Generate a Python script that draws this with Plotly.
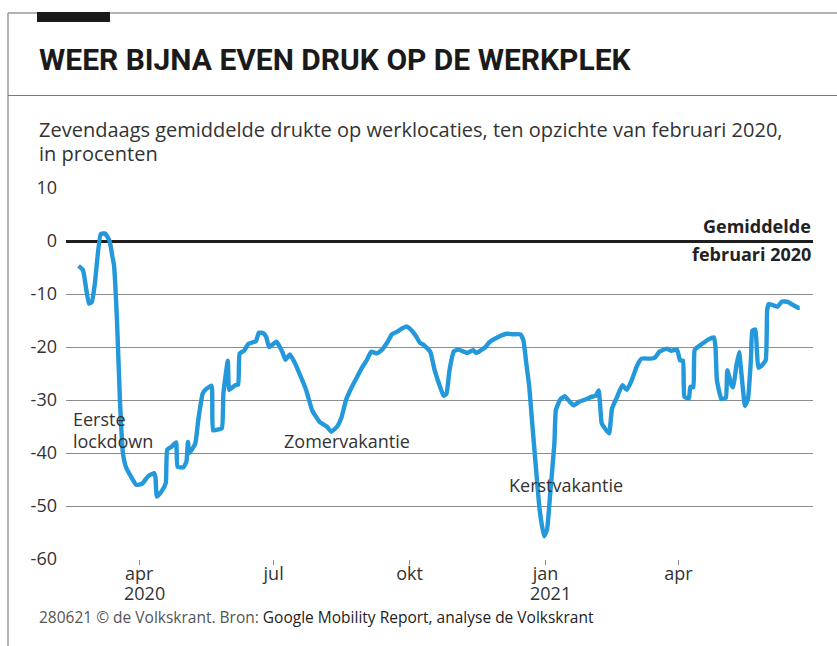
import plotly.graph_objects as go

# ---- data ----
dates = [
    "2020-02-20", "2020-02-23", "2020-02-27", "2020-02-29", "2020-03-02", "2020-03-06",
    "2020-03-09", "2020-03-12", "2020-03-14", "2020-03-15", "2020-03-17", "2020-03-19",
    "2020-03-21", "2020-03-23", "2020-03-27", "2020-03-30", "2020-04-03", "2020-04-07",
    "2020-04-11", "2020-04-12", "2020-04-13", "2020-04-16", "2020-04-19", "2020-04-20",
    "2020-04-23", "2020-04-26", "2020-04-27", "2020-05-01", "2020-05-03", "2020-05-04",
    "2020-05-05", "2020-05-09", "2020-05-11", "2020-05-14", "2020-05-16", "2020-05-20",
    "2020-05-21", "2020-05-24", "2020-05-27", "2020-05-28", "2020-05-31", "2020-06-01",
    "2020-06-05", "2020-06-07", "2020-06-08", "2020-06-11", "2020-06-14", "2020-06-19",
    "2020-06-21", "2020-06-24", "2020-06-26", "2020-06-28", "2020-07-03", "2020-07-07",
    "2020-07-09", "2020-07-12", "2020-07-15", "2020-07-18", "2020-07-23", "2020-07-27",
    "2020-08-01", "2020-08-06", "2020-08-09", "2020-08-13", "2020-08-16", "2020-08-19",
    "2020-08-23", "2020-08-26", "2020-08-30", "2020-09-02", "2020-09-05", "2020-09-09",
    "2020-09-12", "2020-09-16", "2020-09-19", "2020-09-22", "2020-09-26", "2020-09-29",
    "2020-10-01", "2020-10-05", "2020-10-08", "2020-10-11", "2020-10-15", "2020-10-18",
    "2020-10-22", "2020-10-24", "2020-10-26", "2020-10-28", "2020-10-31", "2020-11-03",
    "2020-11-09", "2020-11-13", "2020-11-15", "2020-11-21", "2020-11-24", "2020-11-30",
    "2020-12-06", "2020-12-10", "2020-12-15", "2020-12-17", "2020-12-19", "2020-12-21",
    "2020-12-23", "2020-12-26", "2020-12-28", "2020-12-31", "2021-01-02", "2021-01-04",
    "2021-01-07", "2021-01-08", "2021-01-11", "2021-01-14", "2021-01-17", "2021-01-20",
    "2021-01-24", "2021-01-28", "2021-02-01", "2021-02-04", "2021-02-06", "2021-02-08",
    "2021-02-10", "2021-02-13", "2021-02-15", "2021-02-18", "2021-02-22", "2021-02-25",
    "2021-02-28", "2021-03-04", "2021-03-07", "2021-03-13", "2021-03-16", "2021-03-19",
    "2021-03-24", "2021-03-27", "2021-03-31", "2021-04-02", "2021-04-04", "2021-04-05",
    "2021-04-08", "2021-04-09", "2021-04-11", "2021-04-12", "2021-04-17", "2021-04-21",
    "2021-04-25", "2021-04-26", "2021-04-27", "2021-04-30", "2021-05-03", "2021-05-04",
    "2021-05-07", "2021-05-08", "2021-05-10", "2021-05-12", "2021-05-14", "2021-05-16",
    "2021-05-18", "2021-05-20", "2021-05-21", "2021-05-23", "2021-05-24", "2021-05-25",
    "2021-05-27", "2021-05-30", "2021-05-31", "2021-06-01", "2021-06-03", "2021-06-07",
    "2021-06-10", "2021-06-14", "2021-06-17", "2021-06-21", "2021-06-22",
]
drukte = [
    -4.7, -5.5, -11.8, -11.5, -8.1, 1.3,
    1.4, 0.0, -3.1, -4.6, -15.0, -30.0,
    -40.0, -42.6, -44.7, -46.0, -45.8, -44.4,
    -43.8, -44.5, -48.2, -47.3, -45.7, -39.4,
    -38.8, -38.0, -42.6, -42.7, -41.6, -37.9,
    -40.0, -38.2, -33.8, -28.8, -28.0, -27.3,
    -35.7, -35.6, -35.3, -28.8, -22.6, -28.1,
    -27.2, -27.1, -21.2, -20.7, -19.4, -18.9,
    -17.3, -17.4, -18.1, -20.0, -19.0, -21.0,
    -22.4, -21.4, -22.8, -24.7, -28.1, -31.9,
    -34.1, -35.0, -36.0, -35.0, -33.2, -30.0,
    -27.5, -25.9, -23.8, -22.5, -20.9, -21.2,
    -20.6, -19.1, -17.6, -17.2, -16.5, -16.1,
    -16.5, -17.8, -19.2, -19.7, -20.9, -24.4,
    -27.8, -29.2, -28.8, -24.4, -20.8, -20.5,
    -21.1, -20.6, -21.1, -20.1, -19.1, -18.1,
    -17.5, -17.6, -17.6, -18.7, -23.1, -27.5,
    -34.4, -44.4, -50.7, -55.7, -54.5, -48.2,
    -38.2, -31.9, -29.9, -29.3, -30.2, -31.0,
    -30.3, -29.9, -29.4, -29.2, -28.2, -34.4,
    -35.3, -36.3, -31.6, -29.7, -27.2, -28.1,
    -26.5, -23.5, -22.2, -22.2, -22.0, -20.9,
    -20.3, -20.7, -20.5, -22.5, -22.6, -29.4,
    -29.7, -27.5, -27.6, -20.5, -19.4, -18.6,
    -18.2, -20.0, -26.3, -29.8, -29.6, -24.4,
    -27.3, -27.6, -23.8, -21.0, -26.3, -31.1,
    -29.8, -22.3, -16.9, -16.7, -20.6, -23.9,
    -23.6, -22.5, -13.0, -11.9, -12.0, -12.4,
    -11.4, -11.5, -12.0, -12.6, -12.6,
]

y_ticks = [10, 0, -10, -20, -30, -40, -50, -60]
y_tick_labels = ["10", "0", "-10", "-20", "-30", "-40", "-50", "-60"]
x_ticks = ["2020-04-01", "2020-07-01", "2020-10-01", "2021-01-01", "2021-04-01"]
x_tick_labels = ["apr", "jul", "okt", "jan", "apr"]
year_ticks = ["2020-04-01", "2021-01-01"]
year_labels = ["2020", "2021"]

# ---- layout geometry (pixels of the 837x646 canvas) ----
W, H = 837, 646
ML, MR, MT, MB = 66, 24, 188, 87
PW, PH = W - ML - MR, H - MT - MB


def px(x):
    return (x - ML) / PW


def py(y):
    return (H - MB - y) / PH


TXT = "#333333"
FONT = "Open Sans, Roboto, sans-serif"
LINE_BLUE = "#2398da"
GRID = "#8c8c8c"

fig = go.Figure()
fig.add_trace(go.Scatter(
    x=dates, y=drukte, mode="lines",
    line=dict(color=LINE_BLUE, width=4.4, shape="spline", smoothing=0.4),
    hoverinfo="x+y", showlegend=False,
))

fig.update_layout(
    width=W, height=H,
    margin=dict(l=ML, r=MR, t=MT, b=MB, pad=0),
    paper_bgcolor="white", plot_bgcolor="white",
    font=dict(family=FONT, size=18, color=TXT),
    xaxis=dict(
        range=["2020-02-11 12:00", "2021-07-01"],
        tickmode="array", tickvals=x_ticks, ticktext=x_tick_labels,
        showgrid=False, zeroline=False, showline=False,
        ticks="outside", ticklen=5, tickwidth=1, tickcolor=GRID,
        ticklabelstandoff=-7,
        tickfont=dict(size=18, color=TXT),
    ),
    yaxis=dict(
        range=[-60, 10],
        tickmode="array", tickvals=y_ticks, ticktext=y_tick_labels,
        showgrid=True, gridcolor=GRID, gridwidth=1,
        zeroline=True, zerolinecolor="#1e1e1e", zerolinewidth=3,
        showline=False, ticks="", ticklabelstandoff=8,
        tickfont=dict(size=18, color=TXT),
    ),
)

shapes = [
    # frame: top rule, left rule, divider under the title
    dict(type="line", xref="paper", yref="paper", x0=px(8), x1=px(W), y0=py(13), y1=py(13),
         line=dict(color="#9a9a9a", width=1.5)),
    dict(type="line", xref="paper", yref="paper", x0=px(8), x1=px(8), y0=py(13), y1=py(H),
         line=dict(color="#9a9a9a", width=1.5)),
    dict(type="line", xref="paper", yref="paper", x0=px(8), x1=px(W), y0=py(95.5), y1=py(95.5),
         line=dict(color="#7a7a7a", width=1.2)),
    # black accent bar
    dict(type="rect", xref="paper", yref="paper", x0=px(37), x1=px(110), y0=py(22), y1=py(12),
         fillcolor="#1a1a1a", line=dict(width=0)),
]
fig.update_layout(shapes=shapes)

ann = []


def label(text, x, y, size=18, color=TXT, xanchor="left", family=None):
    f = dict(size=size, color=color)
    if family:
        f["family"] = family
    ann.append(dict(text=text, x=px(x), y=py(y), xref="paper", yref="paper",
                    xanchor=xanchor, yanchor="middle", showarrow=False, font=f))


label("<b>WEER BIJNA EVEN DRUK OP DE WERKPLEK</b>", 37, 59, size=30, color="#1a1a1a",
      family="Roboto, sans-serif")
label("Zevendaags gemiddelde drukte op werklocaties, ten opzichte van februari 2020,", 37, 129, size=20)
label("in procenten", 37, 153, size=20)
label("<b>Gemiddelde</b>", 813, 226, color="#222222", xanchor="right")
label("<b>februari 2020</b>", 813, 254, color="#222222", xanchor="right")
label("Eerste", 71, 419)
label("lockdown", 71, 441)
label("Zomervakantie", 282, 441)
label("Kerstvakantie", 507, 485)
label("<span style='color:#555555'>280621 © de Volkskrant. Bron:</span> Google Mobility Report, analyse de Volkskrant",
      37, 617, size=15.5, color="#222222")

# year line under the month ticks
for d, t in zip(year_ticks, year_labels):
    ann.append(dict(text=t, x=d, y=py(593), xref="x", yref="paper", xanchor="center",
                    yanchor="middle", xshift=5, showarrow=False, font=dict(size=18, color=TXT)))

fig.update_layout(annotations=ann)

fig.write_html("out.html", config={"displayModeBar": False},
               post_script="document.body.style.margin='0px';")
